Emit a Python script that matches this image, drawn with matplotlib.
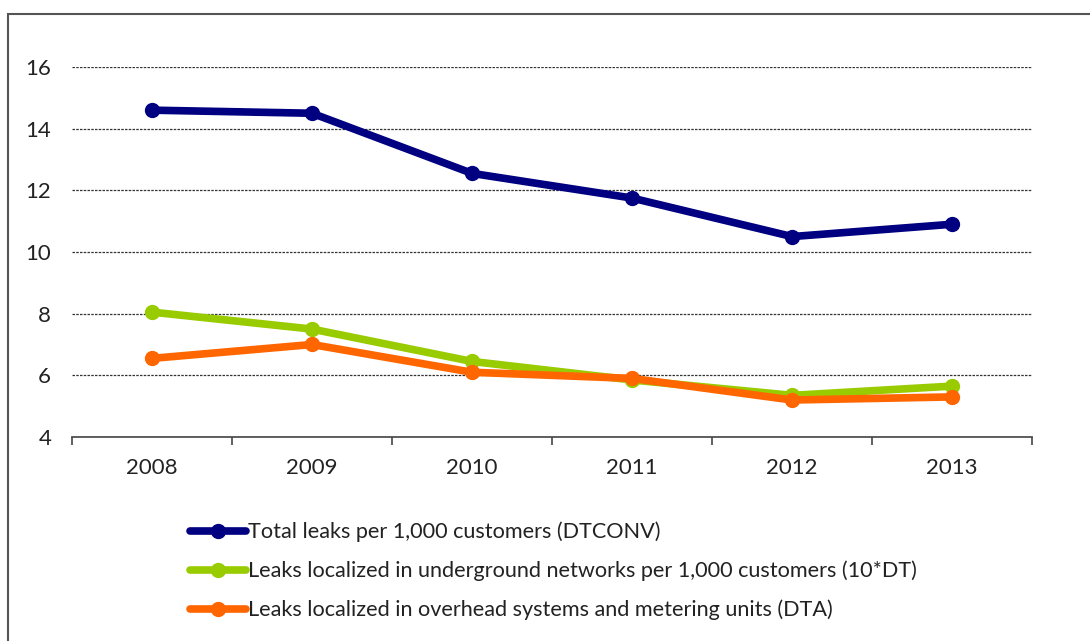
import matplotlib.pyplot as plt
from matplotlib.patches import Rectangle
import numpy as np

years = ['2008', '2009', '2010', '2011', '2012', '2013']
total_leaks = [14.6, 14.5, 12.55, 11.75, 10.5, 10.9]
underground_leaks = [8.05, 7.5, 6.45, 5.85, 5.35, 5.65]
overhead_leaks = [6.55, 7.0, 6.1, 5.9, 5.2, 5.3]

labels = ['Total leaks per 1,000 customers (DTCONV)',
          'Leaks localized in underground networks per 1,000 customers (10*DT)',
          'Leaks localized in overhead systems and metering units (DTA)']
colors = ['#000080', '#99CC00', '#FF6600']

plt.rcParams['font.family'] = ['Lato', 'DejaVu Sans']

fig = plt.figure(figsize=(10.9, 6.41), dpi=100)
ax = fig.add_axes([72/1090, 1 - 437/641, 960/1090, 370/641])

x = np.arange(len(years))
for vals, lab, col in zip([total_leaks, underground_leaks, overhead_leaks],
                          labels, colors):
    ax.plot(x, vals, '-o', color=col, lw=5.5, ms=10, label=lab,
            solid_capstyle='round', zorder=3)

ax.set_xlim(-0.5, len(years) - 0.5)
ax.set_ylim(4, 16)
ax.set_yticks([4, 6, 8, 10, 12, 14, 16])
ax.set_xticks(x)
ax.set_xticklabels(years)
ax.set_xticks(np.arange(len(years) + 1) - 0.5, minor=True)
ax.tick_params(axis='x', which='major', length=0, pad=15,
               labelsize=16, labelcolor='#222222')
ax.tick_params(axis='x', which='minor', length=6, width=1.2,
               color='#444444', direction='out')
ax.tick_params(axis='y', length=0, pad=15, labelsize=16,
               labelcolor='#222222')
ax.grid(axis='y', linestyle=(0, (2, 1)), color='#333333', lw=0.9)
ax.set_axisbelow(True)
for side in ['top', 'right', 'left']:
    ax.spines[side].set_visible(False)
ax.spines['bottom'].set_color('#444444')
ax.spines['bottom'].set_linewidth(1.2)

fig.legend(loc='upper left', bbox_to_anchor=(170/1090, 1 - 502/641),
           frameon=False, fontsize=15.6, handlelength=2.6,
           handletextpad=0.1, labelspacing=0.85, labelcolor='#222222')

# outer frame, cropped at right and bottom
fig.patches.append(Rectangle((8/1090, -0.1), 1.2, 1.1 - 14/641,
                             transform=fig.transFigure, fill=False,
                             edgecolor='#555555', lw=1.5))

fig.savefig('out.png', dpi=100)
